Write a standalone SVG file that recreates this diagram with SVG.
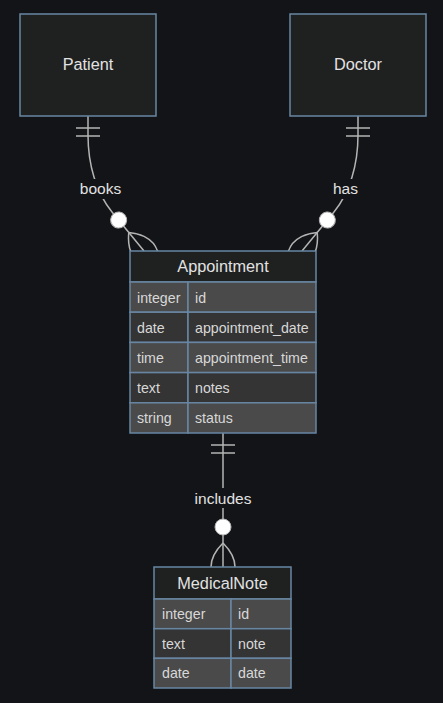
<svg xmlns="http://www.w3.org/2000/svg" width="443" height="703" viewBox="0 0 443 703">
<style>
.bg{fill:#131417}
.ent{fill:#1f2020;stroke:#6886a3;stroke-width:1.5}
.hdr{fill:#1f2020;stroke:#6886a3;stroke-width:1.5}
.odd{fill:#4a4a4a;stroke:#6886a3;stroke-width:1.5}
.even{fill:#343434;stroke:#6886a3;stroke-width:1.5}
.t{font-family:"Liberation Sans",Arial,sans-serif;fill:#e2e2e2}
.title{font-size:16.3px;text-anchor:middle}
.attr{font-size:14.2px;fill:#d8d8d8}
.lbl{font-size:15.5px;text-anchor:middle}
.ln{fill:none;stroke:#b4b4b4;stroke-width:1.5}
.dot{fill:#ffffff;stroke:#b4b4b4;stroke-width:1}
</style>
<rect class="bg" x="0" y="0" width="443" height="703"/>

<g id="connectors">
  <!-- Patient books Appointment -->
  <g id="edge-books">
    <path class="ln" d="M88,116 L88,135 C88,165 96.3,192.8 112,212 L144,251"/>
    <g transform="translate(88,116) rotate(90)">
      <path class="ln" d="M12,-12 L12,12 M20,-12 L20,12"/>
    </g>
    <g transform="translate(144,251) rotate(50.7)">
      <circle class="dot" cx="-40" cy="0" r="8"/>
      <path class="ln" d="M-24,0 Q0,-24 24,0 Q0,24 -24,0"/>
    </g>
    <rect class="bg" x="79" y="179" width="43" height="20"/>
    <text class="t lbl" x="100.5" y="194">books</text>
  </g>
  <!-- Doctor has Appointment -->
  <g id="edge-has">
    <path class="ln" d="M358,116 L358,135 C358,165 349.7,192.8 334,212 L302,251"/>
    <g transform="translate(358,116) rotate(90)">
      <path class="ln" d="M12,-12 L12,12 M20,-12 L20,12"/>
    </g>
    <g transform="translate(302,251) rotate(129.3)">
      <circle class="dot" cx="-40" cy="0" r="8"/>
      <path class="ln" d="M-24,0 Q0,-24 24,0 Q0,24 -24,0"/>
    </g>
    <rect class="bg" x="332" y="179" width="27" height="20"/>
    <text class="t lbl" x="345.5" y="194">has</text>
  </g>
  <!-- Appointment includes MedicalNote -->
  <g id="edge-includes">
    <path class="ln" d="M223,433 L223,567"/>
    <path class="ln" d="M211,445 L235,445 M211,453 L235,453"/>
    <circle class="dot" cx="223" cy="527" r="8"/>
    <path class="ln" d="M223,543 Q199,567 223,591 Q247,567 223,543"/>
    <rect class="bg" x="192" y="488" width="62" height="20"/>
    <text class="t lbl" x="223" y="504">includes</text>
  </g>
</g>

<g id="Patient">
  <rect class="ent" x="20" y="14" width="136" height="102"/>
  <text class="t title" x="88" y="70">Patient</text>
</g>

<g id="Doctor">
  <rect class="ent" x="290" y="14" width="136" height="102"/>
  <text class="t title" x="358" y="70">Doctor</text>
</g>

<g id="Appointment">
  <rect class="hdr" x="130" y="251" width="186" height="31"/>
  <text class="t title" x="223" y="272">Appointment</text>
  <rect class="odd" x="130" y="282" width="58" height="30.2"/>
  <rect class="odd" x="188" y="282" width="128" height="30.2"/>
  <rect class="even" x="130" y="312.2" width="58" height="30.2"/>
  <rect class="even" x="188" y="312.2" width="128" height="30.2"/>
  <rect class="odd" x="130" y="342.4" width="58" height="30.2"/>
  <rect class="odd" x="188" y="342.4" width="128" height="30.2"/>
  <rect class="even" x="130" y="372.6" width="58" height="30.2"/>
  <rect class="even" x="188" y="372.6" width="128" height="30.2"/>
  <rect class="odd" x="130" y="402.8" width="58" height="30.2"/>
  <rect class="odd" x="188" y="402.8" width="128" height="30.2"/>
  <text class="t attr" x="137" y="302.5">integer</text>
  <text class="t attr" x="195" y="302.5">id</text>
  <text class="t attr" x="137" y="332.5">date</text>
  <text class="t attr" x="195" y="332.5">appointment_date</text>
  <text class="t attr" x="137" y="362.5">time</text>
  <text class="t attr" x="195" y="362.5">appointment_time</text>
  <text class="t attr" x="137" y="392.7">text</text>
  <text class="t attr" x="195" y="392.7">notes</text>
  <text class="t attr" x="137" y="423">string</text>
  <text class="t attr" x="195" y="423">status</text>
</g>

<g id="MedicalNote">
  <rect class="hdr" x="154" y="567" width="137" height="32"/>
  <text class="t title" x="222.5" y="588.5">MedicalNote</text>
  <rect class="odd" x="154" y="599" width="77" height="29.7"/>
  <rect class="odd" x="231" y="599" width="60" height="29.7"/>
  <rect class="even" x="154" y="628.7" width="77" height="29.6"/>
  <rect class="even" x="231" y="628.7" width="60" height="29.6"/>
  <rect class="odd" x="154" y="658.3" width="77" height="29.7"/>
  <rect class="odd" x="231" y="658.3" width="60" height="29.7"/>
  <text class="t attr" x="162" y="619">integer</text>
  <text class="t attr" x="238" y="619">id</text>
  <text class="t attr" x="162" y="648.5">text</text>
  <text class="t attr" x="238" y="648.5">note</text>
  <text class="t attr" x="162" y="678">date</text>
  <text class="t attr" x="238" y="678">date</text>
</g>
</svg>
